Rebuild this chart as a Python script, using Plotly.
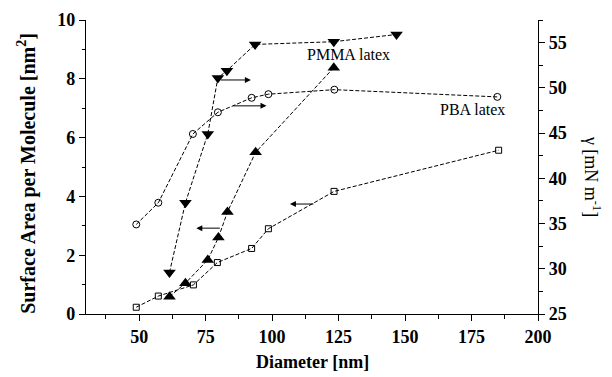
import plotly.graph_objects as go

# Surface area per molecule (left axis)
sq_x = [48.9, 57.2, 70.4, 79.4, 92.3, 98.6, 123.3, 185.2]
sq_y = [0.23, 0.61, 0.99, 1.75, 2.23, 2.90, 4.17, 5.57]
tu_x = [61.4, 67.4, 75.8, 79.8, 83.2, 93.8, 123.2]
tu_y = [0.59, 1.05, 1.84, 2.60, 3.47, 5.50, 8.38]
# Surface tension gamma (right axis)
td_x = [61.4, 67.4, 75.8, 79.6, 83.0, 93.6, 123.2, 146.8]
td_y = [29.6, 37.3, 44.9, 51.1, 51.9, 54.8, 55.1, 55.9]
ci_x = [48.9, 57.2, 70.2, 79.6, 92.3, 98.6, 123.4, 184.7]
ci_y = [34.9, 37.3, 44.9, 47.3, 48.9, 49.3, 49.8, 49.0]

x_ticks = [50, 75, 100, 125, 150, 175, 200]
y_ticks = [0, 2, 4, 6, 8, 10]
y2_ticks = [25, 30, 35, 40, 45, 50, 55]

# arrows: (head_x, tail_x, y) in left-axis coords
arrows = [(92.0, 80.1, 7.96), (97.9, 84.8, 7.08), (71.5, 80.9, 2.92), (106.7, 116.1, 3.74)]
labels = [("PMMA latex", 128.9, 8.84), ("PBA latex", 175.4, 6.96)]

SERIF = "Liberation Serif, Times New Roman, Times, serif"
dash = "4px,2px"

fig = go.Figure()
fig.add_trace(go.Scatter(x=sq_x, y=sq_y, mode="lines+markers",
    line=dict(color="black", width=1, dash=dash),
    marker=dict(symbol="square-open", size=6, color="black", line=dict(width=1))))
fig.add_trace(go.Scatter(x=tu_x, y=tu_y, mode="lines+markers",
    line=dict(color="black", width=1, dash=dash),
    marker=dict(symbol="triangle-up", size=11, color="black")))
fig.add_trace(go.Scatter(x=td_x, y=td_y, yaxis="y2", mode="lines+markers",
    line=dict(color="black", width=1, dash=dash),
    marker=dict(symbol="triangle-down", size=11, color="black")))
fig.add_trace(go.Scatter(x=ci_x, y=ci_y, yaxis="y2", mode="lines+markers",
    line=dict(color="black", width=1, dash=dash),
    marker=dict(symbol="circle-open", size=7, color="black", line=dict(width=1))))

ann = []
for hx, tx, y in arrows:
    ann.append(dict(x=hx, y=y, ax=tx, ay=y, xref="x", yref="y", axref="x", ayref="y",
                    showarrow=True, arrowhead=2, arrowsize=1.2, arrowwidth=1, arrowcolor="black", text=""))
for t, x, y in labels:
    ann.append(dict(x=x, y=y, xref="x", yref="y", text=t, showarrow=False,
                    xanchor="center", yanchor="middle",
                    font=dict(family=SERIF, size=16, color="black")))
ann.append(dict(x=-0.1305, y=0.477, xref="paper", yref="paper", textangle=-90,
                xanchor="center", yanchor="middle",
                text="Surface Area per Molecule [nm<sup>2</sup>]", showarrow=False,
                font=dict(family=SERIF, size=20, color="black", weight="bold")))
ann.append(dict(x=1.119, y=0.467, xref="paper", yref="paper", textangle=90,
                xanchor="center", yanchor="middle",
                text="γ [mN m<sup>-1</sup>]", showarrow=False,
                font=dict(family=SERIF, size=18, color="black")))
ann.append(dict(x=0.5, y=-0.164, xref="paper", yref="paper",
                xanchor="center", yanchor="middle",
                text="Diameter [nm]", showarrow=False,
                font=dict(family=SERIF, size=18, color="black", weight="bold")))

tickfont = dict(family=SERIF, size=18, color="black", weight="bold")
fig.update_layout(
    width=612, height=377, margin=dict(l=86, r=74, t=20, b=63, autoexpand=False),
    paper_bgcolor="white", plot_bgcolor="white", showlegend=False,
    annotations=ann,
    xaxis=dict(range=[30, 200], tickvals=x_ticks, automargin=False,
               ticks="outside", ticklen=6, tickwidth=1.2, tickcolor="black",
               minor=dict(ticks="outside", ticklen=4, dtick=12.5, tick0=0, tickcolor="black", tickwidth=1.2),
               showline=True, linecolor="black", linewidth=1.3, showgrid=False, zeroline=False,
               tickfont=tickfont),
    yaxis=dict(range=[0, 10], tickvals=y_ticks, automargin=False,
               ticks="outside", ticklen=6, tickwidth=1.2, tickcolor="black",
               minor=dict(ticks="outside", ticklen=3, dtick=1, tick0=0, tickcolor="black", tickwidth=1.2),
               showline=True, linecolor="black", linewidth=1.3, showgrid=False, zeroline=False,
               tickfont=tickfont),
    yaxis2=dict(range=[25, 57.5], overlaying="y", side="right", tickvals=y2_ticks, automargin=False,
                ticks="outside", ticklen=6, tickwidth=1.2, tickcolor="black",
                minor=dict(ticks="outside", ticklen=4, dtick=2.5, tick0=25, tickcolor="black", tickwidth=1.2),
                showline=True, linecolor="black", linewidth=1.3, showgrid=False, zeroline=False,
                tickfont=tickfont),
)
fig.write_html("out.html")
